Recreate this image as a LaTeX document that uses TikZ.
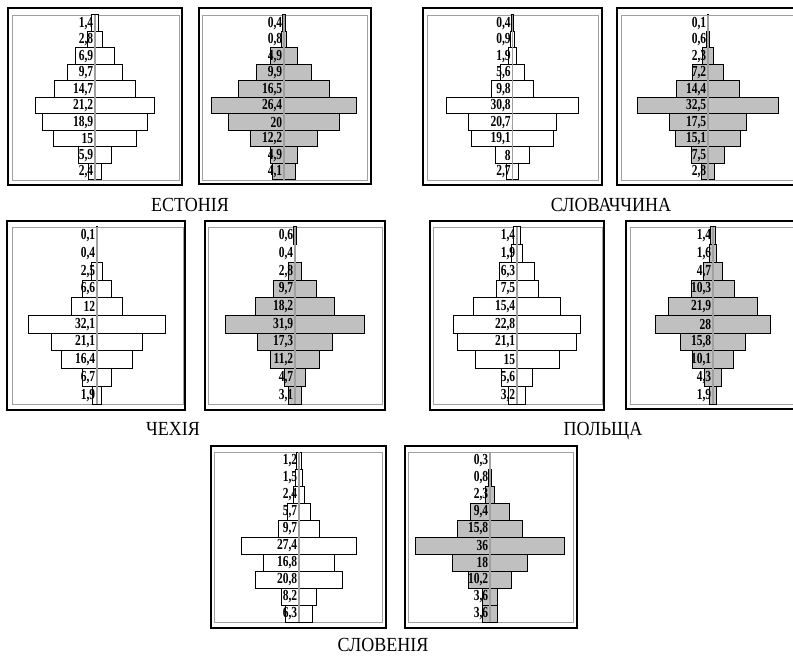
\documentclass[tikz,border=0pt]{standalone}
\usepackage{fontspec}
\setmainfont{Liberation Serif}
\newfontfamily\lblfont[FakeStretch=0.75]{Liberation Serif}
\newfontfamily\capfont[FakeStretch=0.9]{Liberation Serif}
\definecolor{barfill}{HTML}{C0C0C0}
\definecolor{framegray}{HTML}{A0A0A0}
\tikzset{
  outerframe/.style={draw=black, line width=1pt},
  innerframe/.style={draw=framegray, line width=0.7pt},
  barbox/.style={draw=black, line width=0.75pt},
  axisline/.style={draw=framegray, line width=0.8pt},
  lbl/.style={font=\lblfont\bfseries\fontsize{11.5}{12}\selectfont, inner sep=0pt, anchor=east},
  captxt/.style={font=\capfont\fontsize{15}{16}\selectfont, inner sep=0pt, anchor=base},
}
% #1 name, #2 axis x, #3 top y, #4 bottom y, #5 px per unit, #6 fill, #7 value/label pairs
\newcommand\pyrbars[7]{%
  \foreach \vl/\tx [count=\ii] in {#7} {
    \pgfmathsetmacro\ya{#3+(\ii-1)*(#4-#3)/10}
    \pgfmathsetmacro\yb{#3+\ii*(#4-#3)/10}
    \pgfmathsetmacro\hw{\vl*#5/2}
    \draw[barbox, fill=#6] (#2-\hw,\ya) rectangle (#2+\hw,\yb);
  }
  \draw[axisline] (#2,#3) -- (#2,#4);
  \foreach \vl/\tx [count=\ii] in {#7} {
    \pgfmathsetmacro\ym{#3+(\ii-0.5)*(#4-#3)/10}
    \node[lbl] (#1-\ii) at (#2-1.5,\ym) {\tx};
  }
}
\begin{document}
\begin{tikzpicture}[x=0.75pt, y=-0.75pt]
\useasboundingbox (0,0) rectangle (793,656);
\clip (0,0) rectangle (793,656);
% frames
\draw[outerframe] (8,8) rectangle (182,185);
\draw[innerframe] (12,15) rectangle (179,180);
\draw[outerframe] (199,8) rectangle (371,184);
\draw[innerframe] (202,15) rectangle (367,180);
\draw[outerframe] (423,8) rectangle (602,185);
\draw[innerframe] (427,15) rectangle (598,180);
\draw[outerframe] (617,8) rectangle (800,185);
\draw[innerframe] (621,15) rectangle (796,180);
\draw[outerframe] (7,221) rectangle (185,410);
\draw[innerframe] (12,227) rectangle (183,404);
\draw[outerframe] (205,221) rectangle (385,410);
\draw[innerframe] (208,227) rectangle (382,404);
\draw[outerframe] (430,221) rectangle (604,410);
\draw[innerframe] (433,227) rectangle (602,404);
\draw[outerframe] (626,221) rectangle (800,409);
\draw[innerframe] (630,227) rectangle (797,404);
\draw[outerframe] (211,446) rectangle (386,628);
\draw[innerframe] (214,452) rectangle (382,622);
\draw[outerframe] (405,446) rectangle (577,628);
\draw[innerframe] (408,452) rectangle (573,622);
% pyramids
\pyrbars{A}{95}{15}{180}{5.57}{white}{1.4/{1,4},2.8/{2,8},6.9/{6,9},9.7/{9,7},14.7/{14,7},21.2/{21,2},18.9/{18,9},15/15,5.9/{5,9},2.4/{2,4}}
\pyrbars{B}{284}{15}{180}{5.52}{barfill}{0.4/{0,4},0.8/{0,8},4.9/{4,9},9.9/{9,9},16.5/{16,5},26.4/{26,4},20/20,12.2/{12,2},4.9/{4,9},4.1/{4,1}}
\pyrbars{C}{512.5}{15}{180}{4.28}{white}{0.4/{0,4},0.9/{0,9},1.9/{1,9},5.6/{5,6},9.8/{9,8},30.8/{30,8},20.7/{20,7},19.1/{19,1},8/8,2.7/{2,7}}
\pyrbars{D}{708}{15}{180}{4.36}{barfill}{0.1/{0,1},0.6/{0,6},2.3/{2,3},7.2/{7,2},14.4/{14,4},32.5/{32,5},17.5/{17,5},15.1/{15,1},7.5/{7,5},2.8/{2,8}}
\pyrbars{E}{97}{227}{404}{4.27}{white}{0.1/{0,1},0.4/{0,4},2.5/{2,5},6.6/{6,6},12/12,32.1/{32,1},21.1/{21,1},16.4/{16,4},6.7/{6,7},1.9/{1,9}}
\pyrbars{F}{295}{227}{404}{4.36}{barfill}{0.6/{0,6},0.4/{0,4},2.8/{2,8},9.7/{9,7},18.2/{18,2},31.9/{31,9},17.3/{17,3},11.2/{11,2},4.7/{4,7},3.1/{3,1}}
\pyrbars{G}{517}{227}{404}{5.6}{white}{1.4/{1,4},1.9/{1,9},6.3/{6,3},7.5/{7,5},15.4/{15,4},22.8/{22,8},21.1/{21,1},15/15,5.6/{5,6},3.2/{3,2}}
\pyrbars{H}{713}{227}{404}{4.1}{barfill}{1.4/{1,4},1.6/{1,6},4.7/{4,7},10.3/{10,3},21.9/{21,9},28/28,15.8/{15,8},10.1/{10,1},4.3/{4,3},1.9/{1,9}}
\pyrbars{I}{299}{452}{622}{4.19}{white}{1.2/{1,2},1.5/{1,5},2.4/{2,4},5.7/{5,7},9.7/{9,7},27.4/{27,4},16.8/{16,8},20.8/{20,8},8.2/{8,2},6.3/{6,3}}
\pyrbars{J}{490}{452}{622}{4.12}{barfill}{0.3/{0,3},0.8/{0,8},2.3/{2,3},9.4/{9,4},15.8/{15,8},36/36,18/18,10.2/{10,2},3.6/{3,6},3.6/{3,6}}
% captions
\node[captxt] (capEE) at (190,212) {ЕСТОНІЯ};
\node[captxt] (capSK) at (611,212) {СЛОВАЧЧИНА};
\node[captxt] (capCZ) at (173,435) {ЧЕХІЯ};
\node[captxt] (capPL) at (603,435) {ПОЛЬЩА};
\node[captxt] (capSI) at (383,651) {СЛОВЕНІЯ};
\end{tikzpicture}
\end{document}
